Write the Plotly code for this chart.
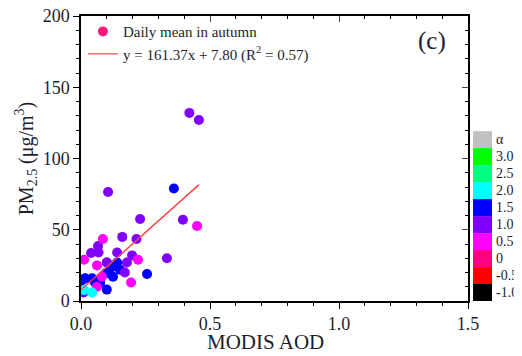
import plotly.graph_objects as go

# ---- data ----
violet_x = [0.42, 0.457, 0.105, 0.229, 0.395, 0.160, 0.215, 0.066, 0.039, 0.068, 0.140, 0.198, 0.333, 0.178, 0.170, 0.100, 0.010]
violet_y = [132, 127, 76.5, 57.5, 57, 45, 43.5, 38.6, 33.7, 34, 34, 32, 30, 27, 20, 27, 6]
blue_x = [0.36, 0.100, 0.140, 0.120, 0.151, 0.256, 0.097, 0.124, 0.012, 0.043, 0.054, 0.100, 0.074, 0.000, 0.016, 0.110]
blue_y = [79, 27, 27, 24, 22, 19, 19.6, 17, 15.4, 16, 13, 8, 12.6, 14, 16, 19.5]
magenta_x = [0.45, 0.085, 0.221, 0.012, 0.062, 0.081, 0.194, 0.062]
magenta_y = [52.6, 43.5, 29, 29, 25, 17, 13, 10]
cyan_x = [0.012, 0.043]
cyan_y = [7.7, 6]

slope, intercept = 161.37, 7.80
fit_x = [0.0, 0.457]

key_colors = ["#c0c0c0", "#00ff00", "#00ff80", "#00ffff", "#0000ff", "#8000ff", "#ff00ff", "#ff0080", "#ff0000", "#000000"]
key_labels = ["α", "3.0", "2.5", "2.0", "1.5", "1.0", "0.5", "0", "-0.5", "-1.0"]

FONT = "Liberation Serif, Times New Roman, serif"
TXT = "#1e1e2e"

fig = go.Figure()

# legend entry for the daily means
fig.add_trace(go.Scatter(x=[None], y=[None], mode="markers", name="Daily mean in autumn",
                         marker=dict(color="#ff1a80", size=10)))
fig.add_trace(go.Scatter(x=fit_x, y=[slope * v + intercept for v in fit_x], mode="lines",
                         name="y = 161.37x + 7.80 (R<sup>2</sup> = 0.57)",
                         line=dict(color="#ff4a4a", width=1.2)))

for xs, ys, c in [(blue_x, blue_y, "#0000ff"), (violet_x, violet_y, "#8000ff"),
                  (magenta_x, magenta_y, "#ff00ff"), (cyan_x, cyan_y, "#00ffff")]:
    fig.add_trace(go.Scatter(x=xs, y=ys, mode="markers", showlegend=False,
                             marker=dict(color=c, size=10, line=dict(width=0))))

# re-draw the line on top of the points
fig.add_trace(go.Scatter(x=fit_x, y=[slope * v + intercept for v in fit_x], mode="lines",
                         showlegend=False, line=dict(color="#ff4a4a", width=1.2)))

# top / right mirror axes with inward ticks
fig.add_trace(go.Scatter(x=[None], y=[None], xaxis="x2", yaxis="y2", showlegend=False))

axis_common = dict(showgrid=False, zeroline=False, showline=True, linecolor="black", linewidth=1.5,
                   ticks="outside", ticklen=6, tickwidth=1.3, tickcolor="black", automargin=False,
                   ticklabeloverflow="allow",
                   tickfont=dict(family=FONT, size=18, color=TXT))

# page body has an 8px default margin -> figure offset compensated in margins
fig.update_layout(
    template="none",
    width=522, height=356,
    margin=dict(l=73, r=62, t=8, b=63, autoexpand=False),
    paper_bgcolor="white", plot_bgcolor="white",
    font=dict(family=FONT, color=TXT),
    xaxis=dict(range=[0, 1.5], dtick=0.5, tickformat=".1f",
               minor=dict(dtick=0.1, ticks="outside", ticklen=3, tickcolor="black"),
               **axis_common),
    yaxis=dict(range=[0, 200], dtick=50,
               minor=dict(dtick=10, ticks="outside", ticklen=3, tickcolor="black"),
               title=dict(text="PM<sub>2.5</sub> (μg/m<sup>3</sup>)", font=dict(family=FONT, size=20, color=TXT), standoff=4),
               **axis_common),
    xaxis2=dict(range=[0, 1.5], overlaying="x", side="top", showgrid=False, zeroline=False,
                showline=True, linecolor="black", linewidth=1.5, ticks="inside", ticklen=6,
                dtick=0.5, showticklabels=False, automargin=False,
                minor=dict(dtick=0.1, ticks="inside", ticklen=3, tickcolor="black")),
    yaxis2=dict(range=[0, 200], overlaying="y", side="right", showgrid=False, zeroline=False,
                showline=True, linecolor="black", linewidth=1.5, ticks="inside", ticklen=6,
                dtick=50, showticklabels=False, automargin=False,
                minor=dict(dtick=10, ticks="inside", ticklen=3, tickcolor="black")),
    legend=dict(x=0.005, y=1.003, xanchor="left", yanchor="top", bgcolor="rgba(0,0,0,0)",
                font=dict(family=FONT, size=15, color=TXT), tracegroupgap=0, itemwidth=30),
    showlegend=True,
)

# x-axis title
fig.add_annotation(text="MODIS AOD", xref="paper", yref="paper", x=0.478, y=-0.143,
                   xanchor="center", yanchor="middle", showarrow=False,
                   font=dict(family=FONT, size=21, color=TXT))

fig.add_annotation(text="(c)", xref="paper", yref="paper", x=0.948, y=0.912, xanchor="right",
                   yanchor="middle", showarrow=False, font=dict(family=FONT, size=25, color=TXT))

# colour key to the right of the plot
top, bottom = 0.596, 0.0  # paper coords (131px .. 301px)
n = len(key_colors)
h = (top - bottom) / n
for i, (c, lab) in enumerate(zip(key_colors, key_labels)):
    y1 = top - i * h
    y0 = y1 - h
    fig.add_shape(type="rect", xref="paper", yref="paper", x0=1.013, x1=1.062, y0=y0, y1=y1,
                  fillcolor=c, line=dict(width=0), layer="above")
    fig.add_annotation(text=lab, xref="paper", yref="paper", x=1.068, y=(y0 + y1) / 2,
                       xanchor="left", yanchor="middle", showarrow=False,
                       font=dict(family=FONT, size=14, color=TXT))

fig.write_html("out.html")
